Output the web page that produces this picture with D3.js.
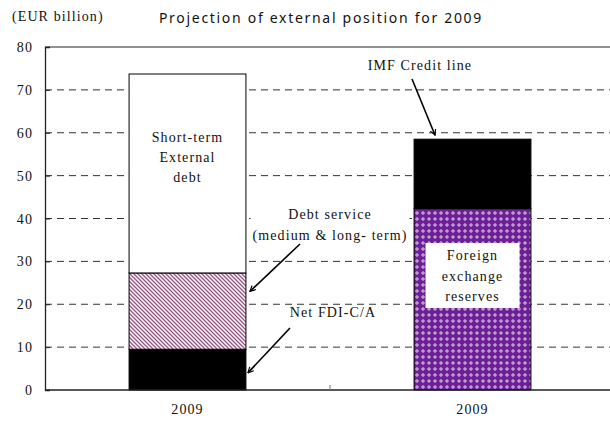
<!DOCTYPE html>
<html lang="en">
<head>
    <meta charset="UTF-8">
    <title>Projection of external position for 2009</title>
    <script src="https://d3js.org/d3.v7.min.js"></script>
    <style>
        body { margin: 0; background: #fff; }
        .serif { font-family: "Liberation Serif", "DejaVu Serif", serif; font-size: 14px; letter-spacing: 1.1px; fill: #111; }
    </style>
</head>
<body>
<script>
    // data (EUR billion)
    const categories = ["2009", "2009"];
    const netFDI = [9.5, 0];
    const debtService = [17.8, 0];
    const shortTermDebt = [46.4, 0];
    const reserves = [0, 42.3];
    const imfCredit = [0, 16.2];
    const yTicks = [0, 10, 20, 30, 40, 50, 60, 70, 80];

    const width = 610, height = 424;
    const plotLeft = 45, plotRight = 615, plotTop = 47, plotBottom = 390;

    let svg = d3.select("body").append("svg")
        .attr("width", width)
        .attr("height", height)
        .style("overflow", "hidden");

    let defs = svg.append("defs");
    // pink diagonal hatch
    let hatch = defs.append("pattern")
        .attr("id", "hatch")
        .attr("patternUnits", "userSpaceOnUse")
        .attr("width", 4).attr("height", 4);
    hatch.append("rect").attr("width", 4).attr("height", 4).attr("fill", "#fff");
    hatch.append("path")
        .attr("d", "M-1,-1 L5,5 M-1,3 L1,5 M3,-1 L5,1")
        .attr("stroke", "#a24d85").attr("stroke-width", 1.3);
    // purple check pattern
    let check = defs.append("pattern")
        .attr("id", "check")
        .attr("patternUnits", "userSpaceOnUse")
        .attr("width", 6).attr("height", 6);
    check.append("rect").attr("width", 6).attr("height", 6).attr("fill", "#6d1f96");
    check.append("path")
        .attr("d", "M3,1 L5,3 L3,5 L1,3 Z")
        .attr("fill", "#d8c2e6");
    check.append("rect").attr("x", 2.5).attr("y", 2.5).attr("width", 1).attr("height", 1).attr("fill", "#6d1f96");

    let marker = defs.append("marker")
        .attr("id", "arrow")
        .attr("viewBox", "0 0 10 10")
        .attr("refX", 9).attr("refY", 5)
        .attr("markerWidth", 7).attr("markerHeight", 7)
        .attr("markerUnits", "userSpaceOnUse")
        .attr("orient", "auto");
    marker.append("path")
        .attr("d", "M1,1 L9,5 L1,9")
        .attr("fill", "none").attr("stroke", "#000").attr("stroke-width", 1.6);

    let x = d3.scaleBand()
        .domain(d3.range(categories.length))
        .range([plotLeft, plotRight])
        .paddingInner(0.59)
        .paddingOuter(0.295);
    let y = d3.scaleLinear().domain([0, 80]).range([plotBottom, plotTop]);

    // grid lines
    svg.append("g").selectAll("line")
        .data(yTicks.filter(d => d > 0 && d < 80))
        .enter().append("line")
        .attr("x1", plotLeft).attr("x2", plotRight)
        .attr("y1", d => y(d)).attr("y2", d => y(d))
        .attr("stroke", "#333")
        .attr("stroke-width", 1)
        .attr("stroke-dasharray", "7,5");
    // top border solid
    svg.append("line")
        .attr("x1", plotLeft).attr("x2", plotRight)
        .attr("y1", y(80)).attr("y2", y(80))
        .attr("stroke", "#222").attr("stroke-width", 1);

    // stacked bars
    let table = categories.map((c, i) => ({
        i: i, netFDI: netFDI[i], debtService: debtService[i], shortTermDebt: shortTermDebt[i],
        reserves: reserves[i], imfCredit: imfCredit[i]
    }));
    let keys = ["netFDI", "debtService", "shortTermDebt", "reserves", "imfCredit"];
    let fills = {netFDI: "#000", debtService: "url(#hatch)", shortTermDebt: "#fff", reserves: "url(#check)", imfCredit: "#000"};
    let stacked = d3.stack().keys(keys)(table);

    stacked.forEach(function (layer) {
        svg.append("g").selectAll("rect")
            .data(layer.filter(d => d[1] - d[0] > 0))
            .enter().append("rect")
            .attr("x", d => x(d.data.i))
            .attr("width", x.bandwidth())
            .attr("y", d => y(d[1]))
            .attr("height", d => y(d[0]) - y(d[1]))
            .attr("fill", fills[layer.key])
            .attr("stroke", "#000")
            .attr("stroke-width", 1);
    });

    // y axis
    let yAxis = svg.append("g")
        .attr("transform", `translate(${plotLeft},0)`)
        .call(d3.axisRight(y).tickValues(yTicks).tickSize(5).tickFormat(""));
    yAxis.select(".domain").attr("stroke", "#222").attr("stroke-width", 1.3);
    yAxis.selectAll(".tick line").attr("stroke", "#222");
    svg.append("g").selectAll("text")
        .data(yTicks)
        .enter().append("text")
        .attr("class", "serif")
        .attr("x", 33)
        .attr("y", d => y(d) + 5)
        .attr("text-anchor", "end")
        .text(d => d);

    // x axis
    svg.append("line")
        .attr("x1", plotLeft).attr("x2", plotRight)
        .attr("y1", plotBottom).attr("y2", plotBottom)
        .attr("stroke", "#222").attr("stroke-width", 1.3);
    svg.append("line")
        .attr("x1", (x(0) + x(1) + x.bandwidth()) / 2)
        .attr("x2", (x(0) + x(1) + x.bandwidth()) / 2)
        .attr("y1", plotBottom).attr("y2", plotBottom - 5)
        .attr("stroke", "#777");
    svg.append("g").selectAll("text")
        .data(categories)
        .enter().append("text")
        .attr("class", "serif")
        .attr("x", (d, i) => x(i) + x.bandwidth() / 2)
        .attr("y", 414)
        .attr("text-anchor", "middle")
        .text(d => d);

    // titles
    svg.append("text")
        .attr("class", "serif")
        .attr("x", 12).attr("y", 21)
        .text("(EUR billion)");
    svg.append("text")
        .attr("x", 321).attr("y", 23)
        .attr("text-anchor", "middle")
        .attr("font-family", "'Noto Sans', sans-serif")
        .attr("font-size", 14)
        .attr("letter-spacing", 1.7)
        .attr("fill", "#111")
        .text("Projection of external position for 2009");

    // labels in bars
    let cx0 = x(0) + x.bandwidth() / 2, cx1 = x(1) + x.bandwidth() / 2;
    svg.append("g").selectAll("text")
        .data(["Short-term", "External", "debt"])
        .enter().append("text")
        .attr("class", "serif")
        .attr("x", cx0)
        .attr("y", (d, i) => 142 + i * 20)
        .attr("text-anchor", "middle")
        .text(d => d);

    svg.append("rect")
        .attr("x", cx1 - 47).attr("y", 243)
        .attr("width", 94).attr("height", 65)
        .attr("fill", "#fff");
    svg.append("g").selectAll("text")
        .data(["Foreign", "exchange", "reserves"])
        .enter().append("text")
        .attr("class", "serif")
        .attr("x", cx1)
        .attr("y", (d, i) => 260 + i * 20.5)
        .attr("text-anchor", "middle")
        .text(d => d);

    // annotations with white boxes and arrows
    function note(lines, tx, ty, from, to) {
        let g = svg.append("g");
        g.selectAll("text")
            .data(lines)
            .enter().append("text")
            .attr("class", "serif")
            .attr("x", tx)
            .attr("y", (d, i) => ty + i * 21)
            .attr("text-anchor", "middle")
            .text(d => d);
        let bb = g.node().getBBox();
        g.insert("rect", "text")
            .attr("x", bb.x - 2).attr("y", bb.y)
            .attr("width", bb.width + 4).attr("height", bb.height)
            .attr("fill", "#fff");
        svg.append("line")
            .attr("x1", from[0]).attr("y1", from[1])
            .attr("x2", to[0]).attr("y2", to[1])
            .attr("stroke", "#000").attr("stroke-width", 1.6)
            .attr("marker-end", "url(#arrow)");
    }
    note(["IMF Credit line"], 420, 70, [412, 79], [x(1) + 21, y(58.5) - 4]);
    note(["Debt service", "(medium & long- term)"], 330, 219, [300, 244], [x(0) + x.bandwidth() + 4, y(23)]);
    note(["Net FDI-C/A"], 333, 317, [290, 328], [x(0) + x.bandwidth() + 2, y(4)]);
</script>
</body>
</html>
